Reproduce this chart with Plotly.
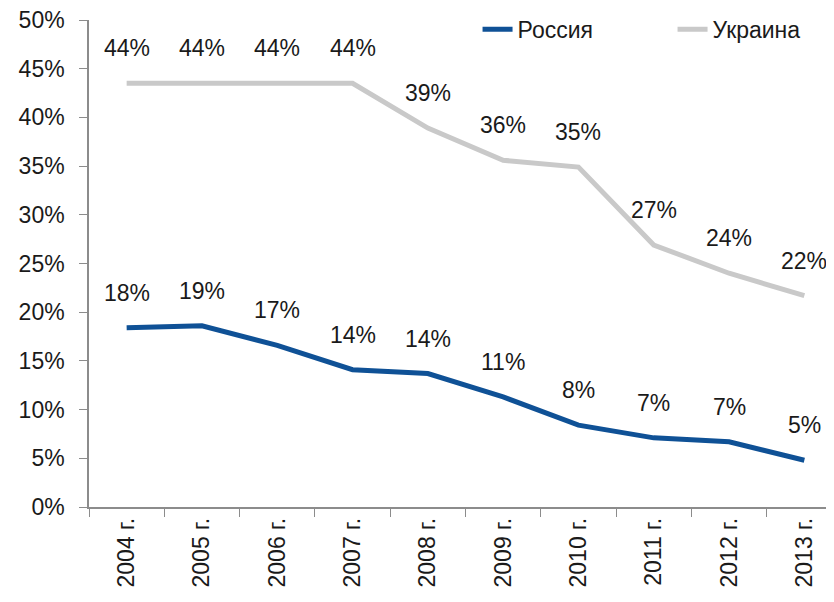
import plotly.graph_objects as go

years = ["2004 г.", "2005 г.", "2006 г.", "2007 г.", "2008 г.", "2009 г.", "2010 г.", "2011 г.", "2012 г.", "2013 г."]
russia = [18.4, 18.6, 16.6, 14.1, 13.7, 11.3, 8.4, 7.1, 6.7, 4.8]
ukraine = [43.5, 43.5, 43.5, 43.5, 38.9, 35.6, 34.9, 26.9, 24.0, 21.7]
russia_labels = ["18%", "19%", "17%", "14%", "14%", "11%", "8%", "7%", "7%", "5%"]
ukraine_labels = ["44%", "44%", "44%", "44%", "39%", "36%", "35%", "27%", "24%", "22%"]
y_ticks = [0, 5, 10, 15, 20, 25, 30, 35, 40, 45, 50]

FONT = "Liberation Sans, Arial, sans-serif"
FS = 23
RU_COLOR = "#0F5196"
UA_COLOR = "#C9C9C9"
TXT = "#1a1a1a"

fig = go.Figure()
fig.add_trace(go.Scatter(x=years, y=russia, mode="lines", name="Россия",
                         line=dict(color=RU_COLOR, width=5)))
fig.add_trace(go.Scatter(x=years, y=ukraine, mode="lines", name="Украина",
                         line=dict(color=UA_COLOR, width=5)))

for xs, ys, labs in [(years, russia, russia_labels), (years, ukraine, ukraine_labels)]:
    for x, y, t in zip(xs, ys, labs):
        fig.add_annotation(x=x, y=y, text=t, showarrow=False, yshift=35,
                           font=dict(family=FONT, size=FS, color=TXT))

fig.update_layout(
    width=834, height=602,
    margin=dict(l=81, r=0, t=12, b=103, autoexpand=False),
    paper_bgcolor="white", plot_bgcolor="white",
    font=dict(family=FONT, size=FS, color=TXT),
    showlegend=True,
    legend=dict(orientation="h", x=0.516, xanchor="left", y=1.025, yanchor="top",
                entrywidth=150, entrywidthmode="pixels",
                font=dict(family=FONT, size=FS, color=TXT),
                bgcolor="rgba(0,0,0,0)", traceorder="normal"),
)
fig.update_xaxes(type="category", range=[-0.5, 9.5], showline=True, linecolor="#8c8c8c",
                 linewidth=1.5, ticks="outside", tickson="boundaries", ticklen=8,
                 tickcolor="#8c8c8c", tickangle=-90, showgrid=False, automargin=False,
                 tickfont=dict(family=FONT, size=FS, color=TXT))
fig.update_yaxes(range=[0, 50], tickvals=y_ticks, ticktext=[f"{v}%" for v in y_ticks],
                 showline=True, linecolor="#8c8c8c", linewidth=1.5, ticks="outside",
                 ticklen=8, tickcolor="#8c8c8c", showgrid=False, zeroline=False,
                 ticklabelstandoff=10, ticklabeloverflow="allow",
                 automargin=False, tickfont=dict(family=FONT, size=FS, color=TXT))

fig.write_html("out.html")
